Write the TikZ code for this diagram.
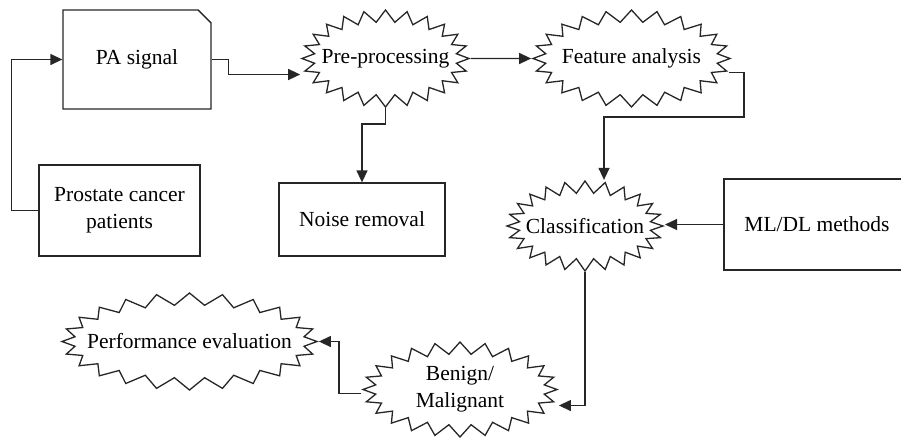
\documentclass[tikz,border=0pt]{standalone}
\usepackage{fontspec}
\setmainfont{Liberation Serif}
\usetikzlibrary{
        arrows.meta,
        calc,
        shapes.misc,
        shapes.symbols
    }
\tikzset{>={Triangle[length=12pt,width=11pt]}}
\tikzset{box/.style={draw=black!85,line width=1.3pt,inner sep=0pt,align=center}}
\tikzset{burst/.style={draw=black!85,line width=1.3pt,starburst,starburst points=24,
    starburst point height=12pt,random starburst=0,inner sep=0pt,align=center}}
\tikzset{link/.style={draw=black!85,line width=1.3pt}}
\newcommand{\burstlabel}[1]{\makebox[0pt]{#1}}

\begin{document}
\begin{tikzpicture}[x=1pt,y=-1pt,font=\fontsize{21.5}{27}\selectfont]
            \useasboundingbox (0,0) rectangle (901,440);
            % boxes
            \node[box,chamfered rectangle,chamfered rectangle corners=north east,
                chamfered rectangle xsep=17pt,minimum width=148pt,minimum height=99pt] (pa) at (137,59.5) {PA signal};
            \node[box,minimum width=161pt,minimum height=91pt] (pat) at (119.5,210.5) {Prostate cancer\\patients};
            \node[box,minimum width=166pt,minimum height=73pt] (noise) at (362,219.5) {Noise removal};
            \node[box,minimum width=186pt,minimum height=91pt] (ml) at (817,224.5) {ML/DL methods};
            % bursts
            \node[burst,minimum width=167pt,minimum height=97pt] (pre) at (385.5,58.5) {\burstlabel{Pre-processing}};
            \node[burst,minimum width=197pt,minimum height=97pt] (feat) at (631.5,58.5) {\burstlabel{Feature analysis}};
            \node[burst,minimum width=156pt,minimum height=90pt] (cls) at (585,226) {\burstlabel{Classification}};
            \node[burst,minimum width=194pt,minimum height=95pt] (ben) at (460,389.5) {Benign/\\Malignant};
            \node[burst,minimum width=255pt,minimum height=97pt] (perf) at (189.5,341.5) {\burstlabel{Performance evaluation}};
            % links
            \draw[link,->] (pat.west) -- ++(-27,0) |- (pa.west);
            \draw[link,->] (pa.east) -- ++(17,0) |- ($(pre.west)+(0,16)$);
            \draw[link,->] (pre.east) -- (feat.west);
            \draw[link,->] (pre.south) -- ++(0,16) -| (noise.north);
            \draw[link,->] ($(feat.east)+(-3,14)$) -- ++(15,0) |- ($(cls.north)+(19,-63)$) -- ($(cls.north)+(19,0)$);
            \draw[link,->] (ml.west) -- (ml.west -| cls.east);
            \draw[link,->] (cls.south) |- ($(ben.east)+(0,16)$);
            \draw[link,->] ($(ben.west)+(0,4)$) -- ++(-22,0) |- (perf.east);
\end{tikzpicture}
\end{document}
